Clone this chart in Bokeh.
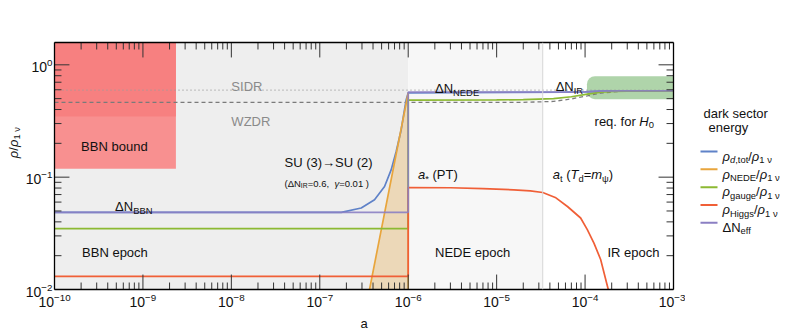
import math
from bokeh.plotting import figure
from bokeh.models import Range1d, FixedTicker, LogAxis, Label, Span, CustomJSTickFormatter
from bokeh.layouts import row
from bokeh.embed import file_html
from bokeh.resources import INLINE

# ---------------- data ----------------
x_lim = [1e-10, 1e-3]
y_lim = [1e-2, 1.58]

epoch_edges = [1e-10, 1e-6, 3.32e-5, 1e-3]      # BBN | NEDE | IR epochs

bbn_bound_edge = 2.36e-9
bbn_bound_low = [0.119, 0.347]
h0_band = [1.05e-4, 0.495, 0.792]              # left edge, bottom, top

a_sidr = [1e-10, 1e-3]
rho_sidr = [0.595, 0.595]

a_wzdr = [1e-10, 1.87e-5, 4.4e-5, 7e-5, 1.06e-4, 1.5e-4, 2.5e-4, 1e-3]
rho_wzdr = [0.463, 0.463, 0.472, 0.497, 0.530, 0.560, 0.580, 0.583]

a_dtot = [1e-10, 1e-7, 1.75e-7, 2.94e-7, 4.16e-7, 5.40e-7, 6.41e-7, 7.31e-7,
          8.32e-7, 9.46e-7, 1e-6, 6e-5, 1e-4, 1.5e-4, 2.5e-4, 1e-3]
rho_dtot = [0.0486, 0.0486, 0.0486, 0.0531, 0.0629, 0.0826, 0.116, 0.169,
            0.263, 0.485, 0.563, 0.571, 0.575, 0.583, 0.587, 0.587]

a_nede = [3.0e-7, 5.0e-7, 7.0e-7, 1.0e-6, 1.0e-6]
rho_nede = [0.00456, 0.0352, 0.135, 0.563, 0.001]

a_gauge = [1e-10, 1e-6, 1e-6, 1e-5, 2e-5, 4.4e-5, 7e-5, 1.06e-4, 1.5e-4,
           2.1e-4, 3e-4, 1e-3]
rho_gauge = [0.0348, 0.0348, 0.485, 0.487, 0.490, 0.500, 0.520, 0.548, 0.571,
             0.580, 0.583, 0.583]

a_higgs = [1e-10, 1e-6, 1e-6, 3e-6, 7e-6, 1.56e-5, 2.4e-5, 3.32e-5, 4.6e-5,
           6.32e-5, 8.91e-5, 1.06e-4, 1.26e-4, 1.5e-4, 1.83e-4, 2.1e-4]
rho_higgs = [0.0131, 0.0131, 0.0809, 0.0805, 0.0790, 0.0771, 0.0755, 0.0730,
             0.0660, 0.0548, 0.0433, 0.0341, 0.0259, 0.0185, 0.0100, 0.0060]

a_neff = [1e-10, 1e-6, 1e-6, 6e-5, 1e-4, 1.5e-4, 2.5e-4, 1e-3]
dneff = [0.0486, 0.0486, 0.571, 0.571, 0.575, 0.583, 0.587, 0.587]

x_major = [1e-10, 1e-9, 1e-8, 1e-7, 1e-6, 1e-5, 1e-4, 1e-3]
y_major = [1e-2, 1e-1, 1e0]

C_BLUE, C_ORANGE, C_GREEN, C_RED, C_PURPLE = "#5f82c8", "#e8a53c", "#8cb932", "#f05f37", "#8b7fc3"
FONT = "Liberation Sans"
TXT = "#111111"
TICK = "#333333"

x_minor = [k * 10.0 ** n for n in range(-10, -3) for k in range(2, 10)]
y_minor = [k * 10.0 ** n for n in range(-2, 0) for k in range(2, 10)]

# ---------------- text helpers ----------------
WID = {' ': 278, '(': 333, ')': 333, '*': 389, ',': 278, '.': 278, '/': 278, '=': 584,
       'A': 667, 'B': 667, 'D': 722, 'E': 667, 'H': 722, 'I': 278, 'N': 722, 'P': 667,
       'R': 722, 'S': 667, 'T': 611, 'U': 722, 'W': 944, 'Z': 611,
       'a': 556, 'b': 556, 'c': 500, 'd': 556, 'e': 556, 'f': 278, 'g': 556, 'h': 556,
       'i': 222, 'm': 833, 'n': 556, 'o': 556, 'p': 556, 'q': 556, 'r': 333, 's': 500,
       't': 278, 'u': 556, 'y': 500, 'Δ': 668, 'ρ': 578, 'ν': 500, 'γ': 500, 'ψ': 713,
       '→': 1000}


def tw(s, size):
    return sum(WID.get(c, 556) for c in s) * size / 1000.0


def rich(fig, x, y, segs, size=13, dx0=0.0, dy0=0.0, color=TXT, angle=0.0):
    pos = 0.0
    for text, st in segs:
        sub = "s" in st
        s = size * 0.72 if sub else size
        down = 0.27 * size if sub else 0.0
        lead = len(text) - len(text.lstrip(" "))
        pos += lead * 278 * s / 1000.0
        text = text.lstrip(" ")
        if angle == 0.0:
            xo, yo = dx0 + pos, dy0 - down
        else:
            xo, yo = dx0 + down, dy0 + pos
        fig.add_layout(Label(x=x, y=y, x_offset=xo, y_offset=yo, text=text, angle=angle,
                             text_font=FONT, text_font_size=f"{s:.1f}px",
                             text_font_style="italic" if "i" in st else "normal",
                             text_color=color, text_baseline="alphabetic", text_align="left"))
        pos += tw(text, s)


def pixel_fig(w, h, flip=True):
    yr = Range1d(h, 0) if flip else Range1d(0, h)
    f = figure(width=w, height=h, x_range=Range1d(0, w), y_range=yr,
               output_backend="svg", toolbar_location=None,
               min_border_left=0, min_border_right=0, min_border_top=0, min_border_bottom=0)
    f.axis.visible = False
    f.xgrid.visible = False
    f.ygrid.visible = False
    f.outline_line_color = None
    return f


H = 333
W0, W1, W2 = 22, 663, 100
BL, BR, BT, BB = 30, 12, 42, 43

# ---------------- y-label strip (y measured upward from the bottom) ----------------
s_fig = pixel_fig(W0, H, flip=False)
rich(s_fig, 12.5, H - 156, [("ρ", "i"), ("/", ""), ("ρ", "i"), ("1 ν", "s")], angle=math.pi / 2)

# ---------------- main figure ----------------
p = figure(width=W1, height=H, x_axis_type="log", y_axis_type="log",
           x_range=Range1d(*x_lim), y_range=Range1d(*y_lim),
           output_backend="svg", toolbar_location=None,
           min_border_left=BL, min_border_right=BR, min_border_top=BT, min_border_bottom=BB)
p.xgrid.visible = False
p.ygrid.visible = False
p.outline_line_color = None
p.background_fill_color = "white"
p.border_fill_color = "white"

bottom_ax = p.below[0]
left_ax = p.left[0]
top_ax = LogAxis()
right_ax = LogAxis()
p.add_layout(top_ax, "above")
p.add_layout(right_ax, "right")

for ax in [bottom_ax, top_ax]:
    ax.ticker = FixedTicker(ticks=x_major, minor_ticks=x_minor)
for ax in [left_ax, right_ax]:
    ax.ticker = FixedTicker(ticks=y_major, minor_ticks=y_minor)
for ax in [bottom_ax, left_ax, top_ax, right_ax]:
    ax.major_tick_in = 0
    ax.major_tick_out = 0
    ax.minor_tick_in = 0
    ax.minor_tick_out = 0
    ax.axis_line_color = "black"
    ax.axis_line_width = 1.3
    ax.major_label_text_font = FONT
    ax.major_label_text_color = TXT
    ax.major_label_text_font_size = "14px"
for ax in [top_ax, right_ax]:
    ax.formatter = CustomJSTickFormatter(code="return ''")
    ax.major_label_standoff = 0
bottom_ax.major_label_standoff = 3
left_ax.major_label_standoff = 2
bottom_ax.axis_label = "a"
bottom_ax.axis_label_text_font = FONT
bottom_ax.axis_label_text_font_size = "13px"
bottom_ax.axis_label_text_font_style = "normal"
bottom_ax.axis_label_text_color = TXT
bottom_ax.axis_label_standoff = 6

# background epochs
p.quad(left=[epoch_edges[0] / 10], right=[epoch_edges[1]], bottom=[1e-4], top=[100],
       fill_color="#eeeeee", line_color=None)
p.quad(left=[epoch_edges[1]], right=[epoch_edges[2]], bottom=[1e-4], top=[100],
       fill_color="#f7f7f7", line_color=None)
p.add_layout(Span(location=epoch_edges[2], dimension="height", line_color="#d6d6d6", line_width=1))

# BBN bound
p.quad(left=[epoch_edges[0] / 10], right=[bbn_bound_edge], bottom=[bbn_bound_low[0]], top=[100],
       fill_color="#f89090", line_color=None)
p.quad(left=[epoch_edges[0] / 10], right=[bbn_bound_edge], bottom=[bbn_bound_low[1]], top=[100],
       fill_color="#f78080", line_color=None)

# H0 band
p.quad(left=[h0_band[0]], right=[epoch_edges[3] * 10], bottom=[h0_band[1]], top=[h0_band[2]],
       fill_color="#afd4aa", line_color=None, border_radius=8)

# reference lines
p.line(a_sidr, rho_sidr, line_color="#9a9a9a", line_width=1.3, line_dash="1 3")
p.line(a_wzdr, rho_wzdr, line_color="#7a7a7a", line_width=1.3, line_dash="4 3")

# NEDE fill
p.varea(x=a_nede[:-1], y1=[1e-4] * (len(a_nede) - 1), y2=rho_nede[:-1],
        fill_color=C_ORANGE, fill_alpha=0.3)

LW = 1.7
p.line(a_dtot, rho_dtot, line_color=C_BLUE, line_width=LW)
p.line(a_nede, rho_nede, line_color=C_ORANGE, line_width=LW)
p.line(a_gauge, rho_gauge, line_color=C_GREEN, line_width=LW)
p.line(a_higgs, rho_higgs, line_color=C_RED, line_width=LW)
p.line(a_neff, dneff, line_color=C_PURPLE, line_width=LW, line_alpha=0.9)

# inward ticks on all four sides, as segments starting outside the frame
# (tick lengths in px converted to log-decades via the fixed frame size)
ppd_x = (W1 - BL - BR) / math.log10(x_lim[1] / x_lim[0])
ppd_y = (H - BT - BB) / math.log10(y_lim[1] / y_lim[0])
for ticks, ln in [(x_major, 15), (x_minor, 7)]:
    n = len(ticks)
    p.segment(x0=ticks, y0=[y_lim[0] / 10] * n, x1=ticks, y1=[y_lim[0] * 10 ** (ln / ppd_y)] * n,
              line_color=TICK, line_width=1)
    p.segment(x0=ticks, y0=[y_lim[1] * 10] * n, x1=ticks, y1=[y_lim[1] * 10 ** (-ln / ppd_y)] * n,
              line_color=TICK, line_width=1)
for ticks, ln in [(y_major, 15), (y_minor, 7)]:
    n = len(ticks)
    p.segment(x0=[x_lim[0] / 10] * n, y0=ticks, x1=[x_lim[0] * 10 ** (ln / ppd_x)] * n, y1=ticks,
              line_color=TICK, line_width=1)
    p.segment(x0=[x_lim[1] * 10] * n, y0=ticks, x1=[x_lim[1] * 10 ** (-ln / ppd_x)] * n, y1=ticks,
              line_color=TICK, line_width=1)

# annotations
rich(p, 1.0e-8, 0.637, [("SIDR", "")], color="#8a8a8a")
rich(p, 1.0e-8, 0.311, [("WZDR", "")], color="#8a8a8a")
rich(p, 2.0e-10, 0.187, [("BBN bound", "")])
rich(p, 4.84e-10, 0.0548, [("ΔN", ""), ("BBN", "s")])
rich(p, 2.05e-10, 0.0214, [("BBN epoch", "")])
rich(p, 3.99e-8, 0.135, [("SU (3)→SU (2)", "")])
rich(p, 3.99e-8, 0.0883, [("(ΔN", ""), ("IR", "s"), ("=0.6,  ", ""), ("γ", "i"), ("=0.01 )", "")], size=9.5)
rich(p, 1.29e-6, 0.1055, [("a", "i"), ("*", "s"), (" (PT)", "")])
rich(p, 2.01e-6, 0.611, [("ΔN", ""), ("NEDE", "s")])
rich(p, 4.65e-5, 0.637, [("ΔN", ""), ("IR", "s")])
rich(p, 1.28e-4, 0.311, [("req. for ", ""), ("H", "i"), ("0", "s")])
rich(p, 4.31e-5, 0.1055, [("a", "i"), ("t", "s"), (" (", ""), ("T", "i"), ("d", "s"), ("=", ""),
                          ("m", "i"), ("ψ", "s"), (")", "")])
rich(p, 2.01e-6, 0.0214, [("NEDE epoch", "")])
rich(p, 1.79e-4, 0.0214, [("IR epoch", "")])

# ---------------- legend figure ----------------
q = pixel_fig(W2, H)
legend_colors = [C_BLUE, C_ORANGE, C_GREEN, C_RED, C_PURPLE]
legend_labels = [
    [("ρ", "i"), ("d", "si"), (",tot", "s"), ("/", ""), ("ρ", "i"), ("1 ν", "s")],
    [("ρ", "i"), ("NEDE", "s"), ("/", ""), ("ρ", "i"), ("1 ν", "s")],
    [("ρ", "i"), ("gauge", "s"), ("/", ""), ("ρ", "i"), ("1 ν", "s")],
    [("ρ", "i"), ("Higgs", "s"), ("/", ""), ("ρ", "i"), ("1 ν", "s")],
    [("ΔN", ""), ("eff", "s")],
]
ys = [147 + 24 * i for i in range(len(legend_colors))]
q.segment(x0=[15] * 5, y0=ys, x1=[32] * 5, y1=ys, line_color=legend_colors, line_width=2)
for yv, segs in zip(ys, legend_labels):
    rich(q, 37, yv, segs, dy0=-4.7)
rich(q, 18, 90, [("dark  sector", "")], dy0=-4.7)
rich(q, 23, 108, [("energy", "")], dy0=-4.7)

layout = row(s_fig, p, q)
open("out.html", "w").write(file_html(layout, INLINE))
